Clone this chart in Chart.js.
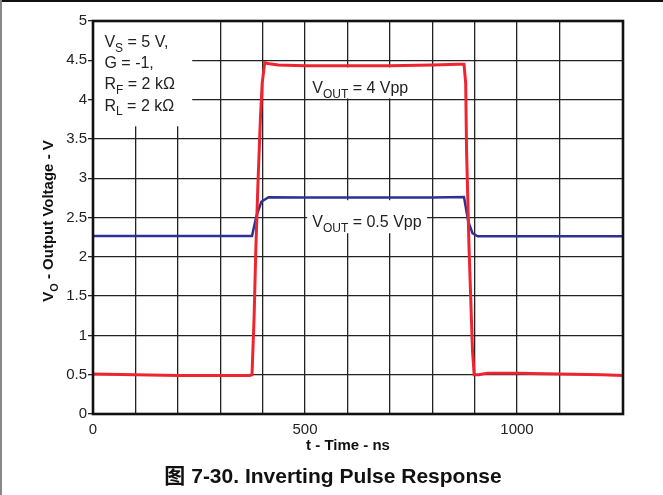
<!DOCTYPE html>
<html>
<head>
<meta charset="utf-8">
<script src="https://cdn.jsdelivr.net/npm/chart.js@4.4.1/dist/chart.umd.min.js"></script>
<style>
  html, body { margin: 0; padding: 0; background: #fff; }
  canvas { display: block; }
</style>
</head>
<body>
<canvas id="pulse" width="663" height="495"></canvas>
<script>
// VOUT = 4 Vpp trace (red)
const redTime  = [0, 100, 200, 300, 370, 375, 380, 384, 389, 395, 399, 405, 412, 437, 500, 600, 700, 800, 860, 875, 879, 881, 887, 895, 899, 910, 930, 1000, 1100, 1200, 1250];
const redVolts = [0.51, 0.50, 0.49, 0.49, 0.49, 0.50, 1.24, 2.09, 2.93, 3.78, 4.21, 4.47, 4.46, 4.44, 4.43, 4.43, 4.43, 4.44, 4.45, 4.45, 4.21, 3.36, 2.09, 0.81, 0.50, 0.50, 0.52, 0.52, 0.51, 0.50, 0.49];

// VOUT = 0.5 Vpp trace (blue)
const blueTime  = [0, 100, 200, 300, 375, 385, 397, 414, 500, 600, 700, 800, 875, 885, 895, 907, 1000, 1100, 1250];
const blueVolts = [2.265, 2.265, 2.265, 2.265, 2.265, 2.51, 2.70, 2.757, 2.755, 2.755, 2.755, 2.755, 2.76, 2.45, 2.30, 2.26, 2.26, 2.26, 2.26];

const xLabels = [0, 500, 1000];

const FONT = '"Liberation Sans", Arial, "Noto Sans CJK SC", sans-serif';

// text boxes, in data units
const noteBoxes = [
  { t0: 0, t1: 234, v0: 3.66, v1: 5 },
  { t0: 513, t1: 766, v0: 4.015, v1: 4.41 },
  { t0: 505, t1: 788, v0: 2.30, v1: 2.72 }
];
const notes = [
  { t: 27, v: 4.67, runs: [['V', 0], ['S', 1], [' = 5 V,', 0]] },
  { t: 27, v: 4.40, runs: [['G = -1,', 0]] },
  { t: 27, v: 4.13, runs: [['R', 0], ['F', 1], [' = 2 k\u03A9', 0]] },
  { t: 27, v: 3.86, runs: [['R', 0], ['L', 1], [' = 2 k\u03A9', 0]] },
  { t: 517, v: 4.08, runs: [['V', 0], ['OUT', 1], [' = 4 Vpp', 0]] },
  { t: 517, v: 2.38, runs: [['V', 0], ['OUT', 1], [' = 0.5 Vpp', 0]] }
];

const drawRuns = (ctx, x, y, runs, size, bold, align) => {
  const weight = bold ? 'bold ' : '';
  const subSize = Math.round(size * 0.74);
  let w = 0;
  runs.forEach(([txt, sub]) => {
    ctx.font = weight + (sub ? subSize : size) + 'px ' + FONT;
    w += ctx.measureText(txt).width;
  });
  let cx = align === 'center' ? x - w / 2 : x;
  ctx.textAlign = 'left';
  ctx.textBaseline = 'alphabetic';
  runs.forEach(([txt, sub]) => {
    ctx.font = weight + (sub ? subSize : size) + 'px ' + FONT;
    ctx.fillText(txt, cx, sub ? y + size * 0.3 : y);
    cx += ctx.measureText(txt).width;
  });
};

const decorations = {
  id: 'decorations',
  beforeDraw(chart) {
    const ctx = chart.ctx;
    ctx.save();
    ctx.fillStyle = '#fff';
    ctx.fillRect(0, 0, chart.width, chart.height);
    ctx.restore();
  },
  beforeDatasetsDraw(chart) {
    const { ctx, scales: { x, y } } = chart;
    ctx.save();
    ctx.fillStyle = '#fff';
    noteBoxes.forEach(b => {
      const l = x.getPixelForValue(b.t0), r = x.getPixelForValue(b.t1);
      const t = y.getPixelForValue(b.v1), btm = y.getPixelForValue(b.v0);
      ctx.fillRect(l, t, r - l, btm - t);
    });
    ctx.restore();
  },
  afterDraw(chart) {
    const { ctx, chartArea: a, scales: { x, y } } = chart;
    ctx.save();
    ctx.fillStyle = '#222';
    notes.forEach(n => {
      drawRuns(ctx, x.getPixelForValue(n.t), y.getPixelForValue(n.v), n.runs, 16, false, 'left');
    });

    // plot frame
    ctx.strokeStyle = '#111';
    ctx.lineWidth = 2.6;
    ctx.strokeRect(a.left, a.top, a.right - a.left, a.bottom - a.top);

    // axis titles
    ctx.fillStyle = '#111';
    drawRuns(ctx, 348, 450, [['t - Time - ns', 0]], 15, true, 'center');
    ctx.translate(53, 221);
    ctx.rotate(-Math.PI / 2);
    drawRuns(ctx, 0, 0, [['V', 0], ['O', 1], [' - Output Voltage - V', 0]], 15, true, 'center');
    ctx.setTransform(1, 0, 0, 1, 0, 0);

    // caption
    ctx.font = 'bold 21px ' + FONT;
    ctx.textAlign = 'center';
    ctx.textBaseline = 'alphabetic';
    ctx.fillText('\u56FE 7-30. Inverting Pulse Response', 333, 483);

    // page edges
    ctx.fillStyle = '#111';
    ctx.fillRect(0, 0, chart.width, 2);
    ctx.fillStyle = '#888';
    ctx.fillRect(0, 0, 2, chart.height);
    ctx.restore();
  }
};

new Chart(document.getElementById('pulse'), {
  type: 'line',
  data: {
    datasets: [
      {
        label: 'VOUT = 4 Vpp',
        data: redTime.map((t, i) => ({ x: t, y: redVolts[i] })),
        borderColor: '#ee2530',
        borderWidth: 3,
        pointRadius: 0,
        tension: 0
      },
      {
        label: 'VOUT = 0.5 Vpp',
        data: blueTime.map((t, i) => ({ x: t, y: blueVolts[i] })),
        borderColor: '#2e3192',
        borderWidth: 2.5,
        pointRadius: 0,
        tension: 0
      }
    ]
  },
  options: {
    responsive: false,
    animation: false,
    layout: { padding: { left: 0, top: 21, right: 40, bottom: 0 } },
    plugins: {
      legend: { display: false },
      tooltip: { enabled: false }
    },
    scales: {
      x: {
        type: 'linear',
        min: 0,
        max: 1250,
        afterFit: s => { s.height = 81; },
        grid: { color: '#222', lineWidth: 1.3, drawTicks: false },
        border: { display: false },
        ticks: {
          stepSize: 100,
          autoSkip: false,
          maxRotation: 0,
          padding: 7,
          color: '#222',
          font: { family: FONT, size: 15 },
          callback: v => (xLabels.includes(v) ? String(v) : '')
        }
      },
      y: {
        min: 0,
        max: 5,
        afterFit: s => { s.width = 93; },
        grid: { color: '#222', lineWidth: 1.3, tickLength: 5 },
        border: { display: false },
        ticks: {
          stepSize: 0.5,
          padding: 1,
          color: '#222',
          font: { family: FONT, size: 15 },
          callback: v => String(v)
        }
      }
    }
  },
  plugins: [decorations]
});
</script>
</body>
</html>
